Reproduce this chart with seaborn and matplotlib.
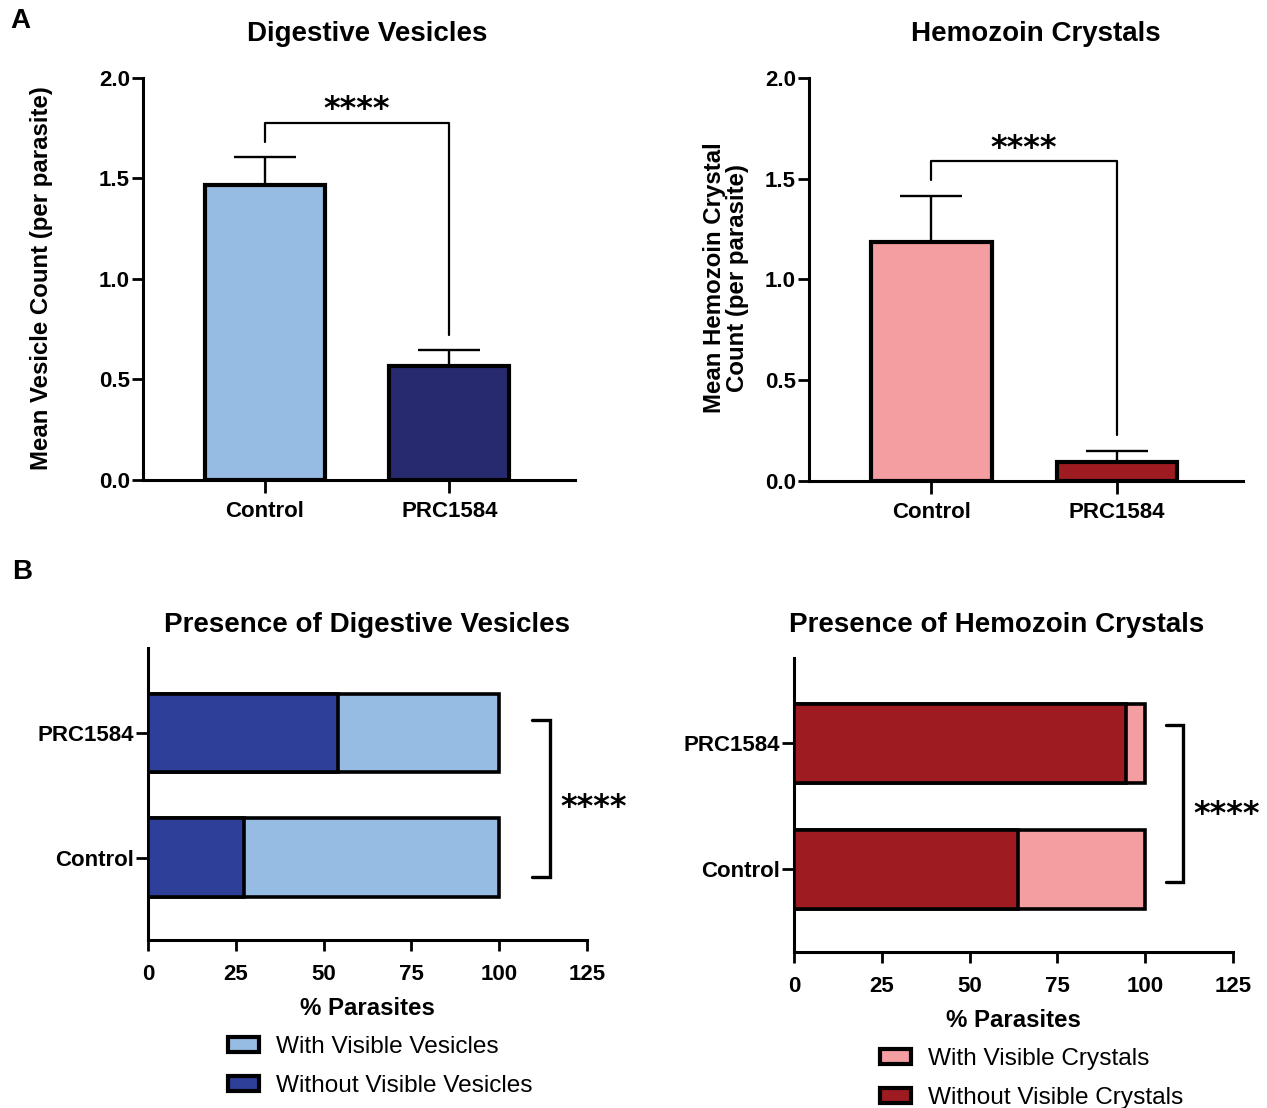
import numpy as np
import pandas as pd
import matplotlib
matplotlib.use("Agg")
import matplotlib.pyplot as plt
from matplotlib.patches import Patch
import seaborn as sns

# ---- data ----
groups = ["Control", "PRC1584"]

vesicle_mean = [1.47, 0.565]
vesicle_sem = [0.135, 0.082]

crystal_mean = [1.185, 0.094]
crystal_sem = [0.228, 0.054]

# percent of parasites (Control, PRC1584)
with_vesicles = [72.6, 46.0]
without_vesicles = [27.4, 54.0]
with_crystals = [36.2, 5.6]
without_crystals = [63.8, 94.4]

y_ticks_a = [0.0, 0.5, 1.0, 1.5, 2.0]
x_ticks_b = [0, 25, 50, 75, 100, 125]

# ---- style ----
LIGHT_BLUE = "#97BCE3"
NAVY = "#282A70"
BLUE = "#2E3F99"
PINK = "#F49EA1"
DARK_RED = "#9E1B22"

sns.set_theme(style="ticks")
plt.rcParams["font.family"] = ["Liberation Sans", "DejaVu Sans"]
plt.rcParams["axes.linewidth"] = 2.2
plt.rcParams["xtick.major.width"] = 2.0
plt.rcParams["ytick.major.width"] = 2.0
plt.rcParams["xtick.color"] = "black"
plt.rcParams["ytick.color"] = "black"
plt.rcParams["xtick.labelcolor"] = "black"
plt.rcParams["ytick.labelcolor"] = "black"
plt.rcParams["axes.edgecolor"] = "black"
plt.rcParams["axes.labelcolor"] = "black"
plt.rcParams["text.color"] = "black"

W, H = 1267, 1108
fig = plt.figure(figsize=(W / 100, H / 100), dpi=100)
fig.patch.set_facecolor("white")


def rect(x0, y0, x1, y1):
    return [x0 / W, 1 - y1 / H, (x1 - x0) / W, (y1 - y0) / H]


def px(x, y):
    return x / W, 1 - y / H


TICK_FS = 16
TITLE_FS = 20
LABEL_FS = 17.3
STAR_FS = 23
STAR_FONT = "DejaVu Sans"


def stars(ax, x, y):
    ax.annotate("****", xy=(x, y), xytext=(0, 3), textcoords="offset points",
                ha="center", va="baseline", fontsize=STAR_FS,
                fontweight="bold", family=STAR_FONT, annotation_clip=False)


def count_panel(ax, means, sems, colors, br_y, br_left, br_right):
    df = pd.DataFrame({"group": groups, "mean": means})
    sns.barplot(data=df, x="group", y="mean", hue="group", palette=colors,
                width=0.65, edgecolor="black", linewidth=3, errorbar=None,
                saturation=1, legend=False, ax=ax, zorder=3)
    ax.errorbar(range(len(means)), means, yerr=[np.zeros(len(sems)), sems],
                fmt="none", ecolor="black", elinewidth=1.7, capsize=22,
                capthick=1.7, zorder=2)
    ax.plot([0, 0, 1, 1], [br_left, br_y, br_y, br_right], color="black",
            lw=1.6, zorder=4)
    stars(ax, 0.5, br_y)
    ax.set_xlim(-0.66, 1.68)
    ax.set_ylim(0, 2.0)
    ax.set_yticks(y_ticks_a)
    ax.set_yticklabels([f"{v:.1f}" for v in y_ticks_a])
    ax.set_xlabel("")
    ax.set_ylabel("")
    sns.despine(ax=ax)
    ax.tick_params(axis="y", length=8, pad=1.5, labelsize=TICK_FS)
    ax.tick_params(axis="x", length=9, pad=6, labelsize=TICK_FS)
    for lab in ax.get_xticklabels() + ax.get_yticklabels():
        lab.set_fontweight("bold")


def presence_panel(ax, with_pct, without_pct, light, dark,
                   br_x0, br_x1, br_top, br_bot, star_x, star_y):
    order = ["PRC1584", "Control"]
    total = [w + wo for w, wo in zip(with_pct, without_pct)]
    df = pd.DataFrame({"group": groups, "total": total, "without": without_pct})
    sns.barplot(data=df, x="total", y="group", order=order, orient="h",
                color=light, saturation=1, width=0.63, edgecolor="black",
                linewidth=2.6, errorbar=None, ax=ax, zorder=3)
    sns.barplot(data=df, x="without", y="group", order=order, orient="h",
                color=dark, saturation=1, width=0.63, edgecolor="black",
                linewidth=2.6, errorbar=None, ax=ax, zorder=3)
    ax.plot([br_x0, br_x1, br_x1, br_x0], [br_top, br_top, br_bot, br_bot],
            color="black", lw=2.4, clip_on=False, solid_joinstyle="miter")
    stars(ax, star_x, star_y)
    ax.set_xlim(0, 125)
    ax.set_ylim(1.66, -0.68)
    ax.set_xticks(x_ticks_b)
    ax.set_ylabel("")
    ax.set_xlabel("% Parasites", fontsize=LABEL_FS, fontweight="bold",
                  labelpad=9)
    sns.despine(ax=ax)
    ax.tick_params(axis="x", length=8, pad=9, labelsize=TICK_FS)
    ax.tick_params(axis="y", length=9, pad=1, labelsize=TICK_FS)
    for lab in ax.get_xticklabels() + ax.get_yticklabels():
        lab.set_fontweight("bold")


# ---- A: mean counts ----
ax1 = fig.add_axes(rect(143, 78, 575, 480))
count_panel(ax1, vesicle_mean, vesicle_sem, [LIGHT_BLUE, NAVY],
            br_y=1.778, br_left=1.684, br_right=0.722)

ax2 = fig.add_axes(rect(809, 78, 1243, 481))
count_panel(ax2, crystal_mean, crystal_sem, [PINK, DARK_RED],
            br_y=1.589, br_left=1.495, br_right=0.227)

fig.text(*px(367, 34), "Digestive Vesicles", ha="center", va="center",
         fontsize=TITLE_FS, fontweight="bold")
fig.text(*px(1036, 34), "Hemozoin Crystals", ha="center", va="center",
         fontsize=TITLE_FS, fontweight="bold")
fig.text(*px(42, 278), "Mean Vesicle Count (per parasite)", rotation=90,
         ha="center", va="center", fontsize=LABEL_FS, fontweight="bold")
fig.text(*px(726, 278), "Mean Hemozoin Crystal\nCount (per parasite)",
         rotation=90, ha="center", va="center", fontsize=LABEL_FS,
         fontweight="bold", linespacing=1.0)

# ---- B: presence ----
ax3 = fig.add_axes(rect(148, 648, 587, 940))
presence_panel(ax3, with_vesicles, without_vesicles, LIGHT_BLUE, BLUE,
               br_x0=109.3, br_x1=114.6, br_top=-0.103, br_bot=1.156,
               star_x=126.9, star_y=0.70)

ax4 = fig.add_axes(rect(794, 658, 1233, 952))
presence_panel(ax4, with_crystals, without_crystals, PINK, DARK_RED,
               br_x0=106.0, br_x1=110.8, br_top=-0.15, br_bot=1.106,
               star_x=123.1, star_y=0.67)

fig.text(*px(367, 625), "Presence of Digestive Vesicles", ha="center",
         va="center", fontsize=TITLE_FS, fontweight="bold")
fig.text(*px(997, 625), "Presence of Hemozoin Crystals", ha="center",
         va="center", fontsize=TITLE_FS, fontweight="bold")

# legends
legend_kw = dict(frameon=False, loc="upper left", fontsize=17.6,
                 handlelength=1.25, handleheight=0.55, handletextpad=0.72,
                 labelspacing=0.70, borderpad=0, borderaxespad=0)
h3 = [Patch(facecolor=LIGHT_BLUE, edgecolor="black", lw=3, label="With Visible Vesicles"),
      Patch(facecolor=BLUE, edgecolor="black", lw=3, label="Without Visible Vesicles")]
fig.legend(handles=h3, bbox_to_anchor=px(228, 1036), **legend_kw)
h4 = [Patch(facecolor=PINK, edgecolor="black", lw=3, label="With Visible Crystals"),
      Patch(facecolor=DARK_RED, edgecolor="black", lw=3, label="Without Visible Crystals")]
fig.legend(handles=h4, bbox_to_anchor=px(880, 1048), **legend_kw)

# panel letters
fig.text(*px(20, 21), "A", ha="center", va="center", fontsize=TITLE_FS,
         fontweight="bold")
fig.text(*px(22, 572), "B", ha="center", va="center", fontsize=TITLE_FS,
         fontweight="bold")

fig.savefig("out.png", dpi=100, facecolor="white")
